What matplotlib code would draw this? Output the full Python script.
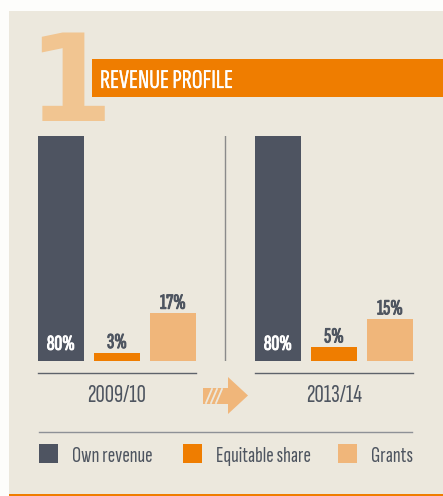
import matplotlib
matplotlib.use('Agg')
import matplotlib.pyplot as plt
from matplotlib.patches import Rectangle, Polygon
from matplotlib.lines import Line2D
import matplotlib.transforms as mtransforms
import matplotlib.patheffects as pe

# ---------------- data ----------------
periods = ['2009/10', '2013/14']
series = ['Own revenue', 'Equitable share', 'Grants']
own_revenue = [80, 80]
equitable_share = [3, 5]
grants = [17, 15]
title = 'REVENUE PROFILE'
section_number = '1'

# ---------------- style ----------------
C_DARK = '#4E5461'
C_ORANGE = '#EF7D00'
C_LIGHT = '#F0B67A'
C_NUM = '#F1C591'
C_PANEL = '#ECE8DD'
C_TEXT = '#4E5560'
C_RULE = '#8E9196'
series_colors = [C_DARK, C_ORANGE, C_LIGHT]
FONT = ['Sofia Sans Extra Condensed', 'DejaVu Sans']

W, H = 443, 496
fig = plt.figure(figsize=(W / 100, H / 100), dpi=100)
fig.patch.set_facecolor('#FDFDFB')


def fx(x):
    return x / W


def fy(y):
    return 1 - y / H


def frect(x0, y0, x1, y1, **kw):
    r = Rectangle((fx(x0), fy(y1)), fx(x1) - fx(x0), fy(y0) - fy(y1),
                  transform=fig.transFigure, **kw)
    fig.add_artist(r)
    return r


# panel
frect(9, 11, 443, 496, facecolor=C_PANEL, edgecolor='none', zorder=0)
frect(9, 494, 443, 496, facecolor=C_ORANGE, edgecolor='none', zorder=1)

# big number and title banner
fig.text(fx(70), fy(121), section_number, ha='center', va='baseline',
         fontsize=88, fontweight='bold', family='DejaVu Sans', color=C_NUM, zorder=2)
frect(92, 59, 443, 97, facecolor=C_ORANGE, edgecolor='none', zorder=3)
fig.text(fx(100), fy(88), title, ha='left', va='baseline', fontsize=19.5,
         family=FONT, color='white', zorder=4,
         path_effects=[pe.withStroke(linewidth=0.15, foreground='white')])

# ---------------- bars ----------------
ax = fig.add_axes([fx(38), fy(361), (413 - 38) / W, (361 - 136) / H])
ax.set_facecolor('none')
ax.set_ylim(0, 80)
gap = 3.875
bw = 0.82
ax.set_xlim(-bw / 2, gap + 2 + bw / 2)
ax.axis('off')

values = [own_revenue, equitable_share, grants]
for s, (vals, col) in enumerate(zip(values, series_colors)):
    xs = [g * gap + s for g in range(len(periods))]
    ax.bar(xs, vals, width=bw, color=col, zorder=2)
    for x, v in zip(xs, vals):
        if s == 0:
            tcol, anchor, dy = 'white', (x, 0), 8
        else:
            tcol, anchor, dy = C_TEXT, (x, v), 3.2
        ax.annotate(f'{v}%', anchor, xytext=(0, dy), textcoords='offset points',
                    ha='center', va='baseline', color=tcol, fontsize=15.5,
                    fontweight='bold', family=FONT, zorder=3,
                    path_effects=[pe.withStroke(linewidth=0.7, foreground=tcol)])

# separator between periods
ax.axvline((2 + gap) / 2, color='#8A8A8A', lw=1.0, zorder=1)

blend = mtransforms.blended_transform_factory(ax.transData, ax.transAxes)
for g, p in enumerate(periods):
    x0 = g * gap - bw / 2
    x1 = g * gap + 2 + bw / 2
    ax.add_line(Line2D([x0, x1], [-12 / 225, -12 / 225], transform=blend,
                       color='#5E636B', lw=1.0, clip_on=False))
    ax.text(g * gap + 1, -41 / 225, p, transform=blend, ha='center', va='baseline',
            fontsize=18.5, family=FONT, color=C_TEXT, clip_on=False)

# arrow between periods
arrow = Polygon([(fx(203), fy(388)), (fx(228), fy(388)), (fx(228), fy(377)),
                 (fx(248), fy(395.5)), (fx(228), fy(414)), (fx(228), fy(404)),
                 (fx(203), fy(404))], closed=True, transform=fig.transFigure,
                facecolor=C_LIGHT, edgecolor='none', zorder=2)
fig.add_artist(arrow)
for bx in (206, 211, 216):
    fig.add_artist(Line2D([fx(bx), fx(bx + 6)], [fy(403), fy(389)],
                          transform=fig.transFigure, color=C_PANEL, lw=1.3, zorder=3))

# ---------------- legend ----------------
fig.add_artist(Line2D([fx(39), fx(412)], [fy(432), fy(432)], transform=fig.transFigure,
                      color=C_RULE, lw=1.0, zorder=2))
leg_x = [39, 183, 338]
for lx, name, col in zip(leg_x, series, series_colors):
    frect(lx, 444, lx + 19, 463, facecolor=col, edgecolor='none', zorder=2)
    fig.text(fx(lx + 33), fy(462.5), name, ha='left', va='baseline', fontsize=16.3,
             family=FONT, color=C_TEXT, zorder=3)

fig.savefig('out.png', dpi=100, facecolor=fig.get_facecolor())
